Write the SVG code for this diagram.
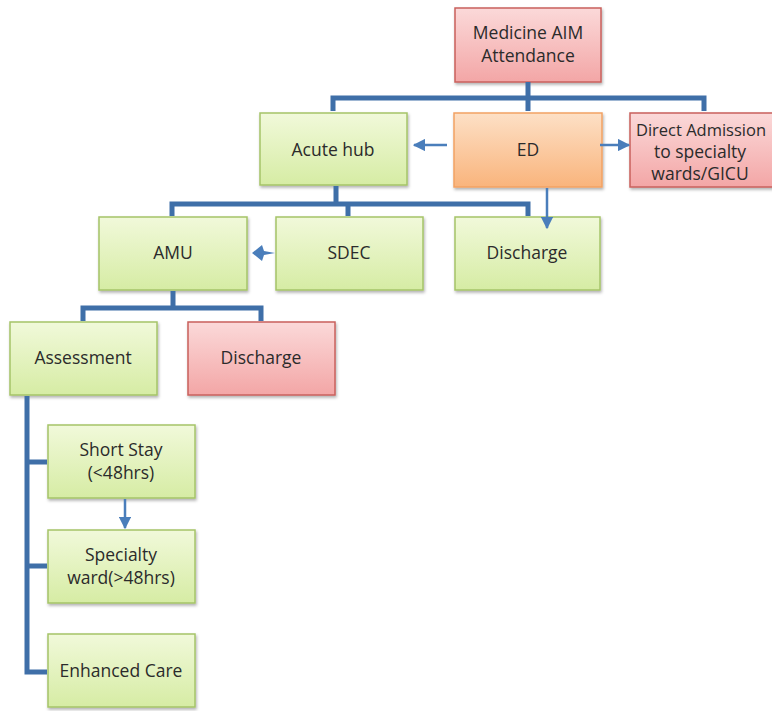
<svg xmlns="http://www.w3.org/2000/svg" width="772" height="711" viewBox="0 0 772 711">
<defs>
<linearGradient id="gG" x1="0" y1="0" x2="0" y2="1"><stop offset="0" stop-color="#f1f9da"/><stop offset="1" stop-color="#d6eca4"/></linearGradient>
<linearGradient id="gR" x1="0" y1="0" x2="0" y2="1"><stop offset="0" stop-color="#fbd9d9"/><stop offset="1" stop-color="#f3a6a6"/></linearGradient>
<linearGradient id="gO" x1="0" y1="0" x2="0" y2="1"><stop offset="0" stop-color="#fde0c6"/><stop offset="1" stop-color="#f9b47c"/></linearGradient>
<filter id="sh" x="-10%" y="-10%" width="130%" height="130%"><feDropShadow dx="1" dy="2" stdDeviation="1.5" flood-color="#000" flood-opacity="0.3"/></filter>
<marker id="ah" viewBox="0 0 10 10" refX="9" refY="5" markerWidth="5" markerHeight="5" orient="auto-start-reverse"><path d="M0,0 L10,5 L0,10 z" fill="#4a7ebb"/></marker>
<style>
.g{fill:url(#gG);stroke:#a5c468;stroke-width:1.5;filter:url(#sh)}
.r{fill:url(#gR);stroke:#c9605c;stroke-width:1.5;filter:url(#sh)}
.o{fill:url(#gO);stroke:#f2a263;stroke-width:1.5;filter:url(#sh)}
text{font-family:"Open Sans","Liberation Sans",sans-serif;font-size:17.5px;fill:#2b2b2b;text-anchor:middle}
.c{fill:none;stroke:#3f6fa8;stroke-width:5}
.a{fill:none;stroke:#4a7ebb;stroke-width:2.5;marker-end:url(#ah)}
</style>
</defs>
<g id="medicine"><rect class="r" x="455" y="8" width="146" height="74"/><text x="528" y="39">Medicine AIM</text><text x="528" y="62">Attendance</text></g>
<g id="acutehub"><rect class="g" x="260" y="113" width="147" height="72"/><text x="333" y="156">Acute hub</text></g>
<g id="ed"><rect class="o" x="454" y="113" width="148" height="74"/><text x="528" y="156">ED</text></g>
<g id="direct"><rect class="r" x="630" y="113" width="150" height="74"/><text x="701" y="136" style="font-size:16.5px">Direct Admission</text><text x="700" y="158">to specialty</text><text x="700" y="180">wards/GICU</text></g>
<g id="amu"><rect class="g" x="99" y="217" width="148" height="73"/><text x="173" y="259">AMU</text></g>
<g id="sdec"><rect class="g" x="276" y="217" width="147" height="73"/><text x="349" y="259">SDEC</text></g>
<g id="discharge1"><rect class="g" x="455" y="217" width="145" height="73"/><text x="527" y="259">Discharge</text></g>
<g id="assessment"><rect class="g" x="10" y="322" width="147" height="73"/><text x="83" y="364">Assessment</text></g>
<g id="discharge2"><rect class="r" x="188" y="322" width="147" height="73"/><text x="261" y="364">Discharge</text></g>
<g id="shortstay"><rect class="g" x="48" y="425" width="147" height="73"/><text x="121" y="456">Short Stay</text><text x="121" y="479">(&lt;48hrs)</text></g>
<g id="specialty"><rect class="g" x="48" y="530" width="147" height="73"/><text x="121" y="561">Specialty</text><text x="121" y="584">ward(&gt;48hrs)</text></g>
<g id="enhanced"><rect class="g" x="48" y="634" width="147" height="73"/><text x="121" y="677">Enhanced Care</text></g>
<g id="connectors">
<path class="c" d="M528,82 V98 M333,111 V98 H704 V111 M528,98 V111"/>
<path class="c" d="M336,186 V204 M172,216 V204 H528 V216 M348,204 V216"/>
<path class="c" d="M173,291 V308 M83,321 V308 H261 V321"/>
<path class="c" d="M27,396 V672 H47 M27,462 H47 M27,566 H47"/>
<path class="a" d="M447,145 H414"/>
<path class="a" d="M600,145 H629"/>
<path class="a" d="M547,188 V228"/>
<path class="a" d="M125,499 V528"/>
<path d="M252,253 L262,245 L264,251 L275,253 L264,255 L262,261 Z" fill="#4a7ebb"/>
</g>
</svg>
